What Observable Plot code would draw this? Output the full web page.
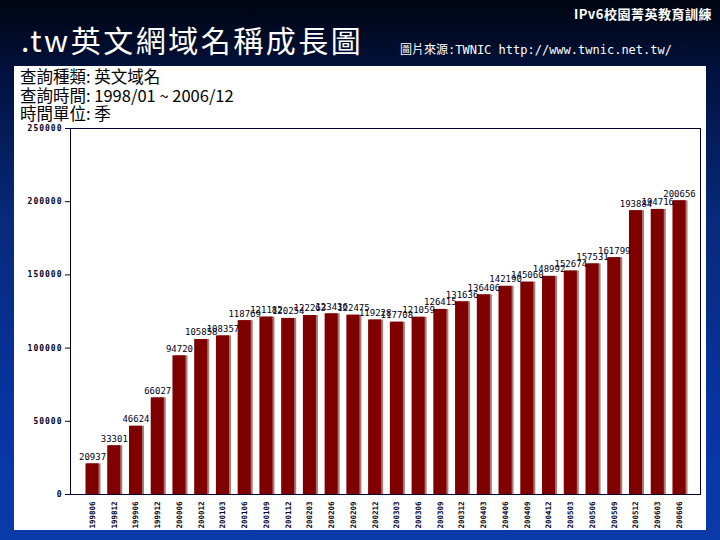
<!DOCTYPE html>
<html><head><meta charset="utf-8">
<script src="https://cdn.jsdelivr.net/npm/d3@7"></script>
<script src="https://cdn.jsdelivr.net/npm/@observablehq/plot@0.6"></script>
<style>
body{margin:0;background:#000;}
#slide{position:relative;width:720px;height:540px;overflow:hidden;
  background:linear-gradient(to bottom,#000510 0%,#021240 14%,#07297a 40%,#0834a0 75%,#0a3aa8 100%);
  font-family:"Noto Sans CJK TC","Noto Sans CJK SC",sans-serif;}
#brand{position:absolute;right:8px;top:4px;color:#fff;font-size:13px;font-weight:bold;letter-spacing:0.5px;}
#title{position:absolute;left:21px;top:22px;color:#fff;font-size:30px;line-height:34px;letter-spacing:2.5px;}
#source{position:absolute;left:400px;top:40px;color:#fff;font-size:12px;font-family:"DejaVu Sans Mono","Noto Sans CJK TC",monospace;}
#panel{position:absolute;left:14px;top:66px;width:692px;height:464px;background:#fff;}
#info{position:absolute;left:6px;top:1px;color:#000;font-size:16.5px;line-height:18.5px;}
#chart{position:absolute;left:0;top:0;}
</style></head><body>
<div id="slide">
  <div id="brand">IPv6校園菁英教育訓練</div>
  <div id="title">.tw英文網域名稱成長圖</div>
  <div id="source">圖片來源:TWNIC http://www.twnic.net.tw/</div>
  <div id="panel">
    <div id="chart"></div>
    <div id="info">查詢種類: 英文域名<br>查詢時間: 1998/01 ~ 2006/12<br>時間單位: 季</div>
  </div>
</div>
<script>
const periods = ["199806","199812","199906","199912","200006","200012","200103","200106","200109","200112",
  "200203","200206","200209","200212","200303","200306","200309","200312","200403","200406",
  "200409","200412","200503","200506","200509","200512","200603","200606"];
const counts = [20937,33301,46624,66027,94720,105858,108357,118769,121182,120254,
  122263,123436,122475,119228,117708,121059,126415,131636,136406,142190,
  145060,148992,152674,157531,161799,193884,194716,200656];
const yTicks = [0,50000,100000,150000,200000,250000];

const data = periods.map((p,i)=>({p, v: counts[i]}));
const mono = "DejaVu Sans Mono, monospace";

const chart = Plot.plot({
  width: 692, height: 464,
  marginLeft: 56, marginRight: 6, marginTop: 62, marginBottom: 36,
  style: {background: "transparent", overflow: "visible"},
  x: {domain: periods, range: [62.8, 680.2], padding: 0.4, round: false, label: null},
  y: {domain: [0, 250000], label: null},
  marks: [
    Plot.barY(data, {x: "p", y: "v", fill: "#a87a7a", dx: 2}),
    Plot.barY(data, {x: "p", y: "v", fill: "#800000"}),
    Plot.text(data, {x: "p", y: "v", text: d => String(d.v), dy: -7, fontSize: 9,
      fontFamily: mono, fill: "#000022"}),
    Plot.frame({stroke: "#000033", strokeWidth: 1}),
    Plot.axisY({ticks: yTicks, tickFormat: d => String(d), tickSize: 5, tickPadding: 3,
      fontSize: 8, fontWeight: "bold", fontFamily: mono, stroke: "#000033", fill: "#000022"}),
    Plot.axisX({tickRotate: -90, tickSize: 0, tickPadding: 7, fontSize: 7.5,
      fontWeight: "bold", fontFamily: mono, fill: "#000022"})
  ]
});
chart.querySelectorAll('g[aria-label="y-axis tick label"] text').forEach(t => t.style.letterSpacing = "1px");
document.getElementById("chart").appendChild(chart);
</script>
</body></html>
